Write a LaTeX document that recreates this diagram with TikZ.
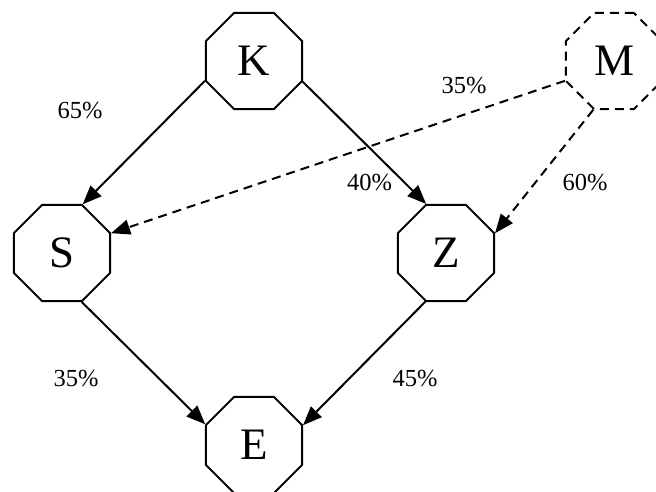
\documentclass[tikz,border=0pt]{standalone}
\usepackage{fontspec}
\setmainfont{Liberation Serif}
\usetikzlibrary{shapes.geometric,arrows.meta}
\tikzset{
  oct/.style={regular polygon, regular polygon sides=8, minimum size=104pt, inner sep=0pt, draw, line width=2pt, font=\fontsize{45}{48}\selectfont},
  dashoct/.style={oct, dash pattern=on 9pt off 6pt},
  conn/.style={line width=2pt, -{Triangle[length=19pt,width=15pt]}},
  dconn/.style={conn, dash pattern=on 9pt off 6pt},
  pct/.style={font=\fontsize{24.5}{26}\selectfont, inner sep=0pt}
}
\begin{document}
\begin{tikzpicture}[x=1pt,y=-1pt]
\useasboundingbox (0,0) rectangle (656,491);
\begin{scope}
\clip (0,0) rectangle (656,491);
\node[oct] (K) at (254,61) {K};
\node[dashoct] (M) at (614,61) {M};
\node[oct] (S) at (62,253) {S};
\node[oct] (Z) at (446,253) {Z};
\node[oct] (E) at (254,445) {E};
\end{scope}
\draw[conn] (K.202.5) -- (S.67.5);
\draw[conn] (K.337.5) -- (Z.112.5);
\draw[dconn] (M.202.5) -- (S.22.5);
\draw[dconn] (M.247.5) -- (Z.22.5);
\draw[conn] (S.292.5) -- (E.157.5);
\draw[conn] (Z.247.5) -- (E.22.5);
\node[pct] (l65) at (80,111) {65\%};
\node[pct] (l35a) at (464,86) {35\%};
\node[pct] (l40) at (369.5,182.5) {40\%};
\node[pct] (l60) at (585,182.5) {60\%};
\node[pct] (l35b) at (76,379) {35\%};
\node[pct] (l45) at (415,379) {45\%};
\end{tikzpicture}
\end{document}
